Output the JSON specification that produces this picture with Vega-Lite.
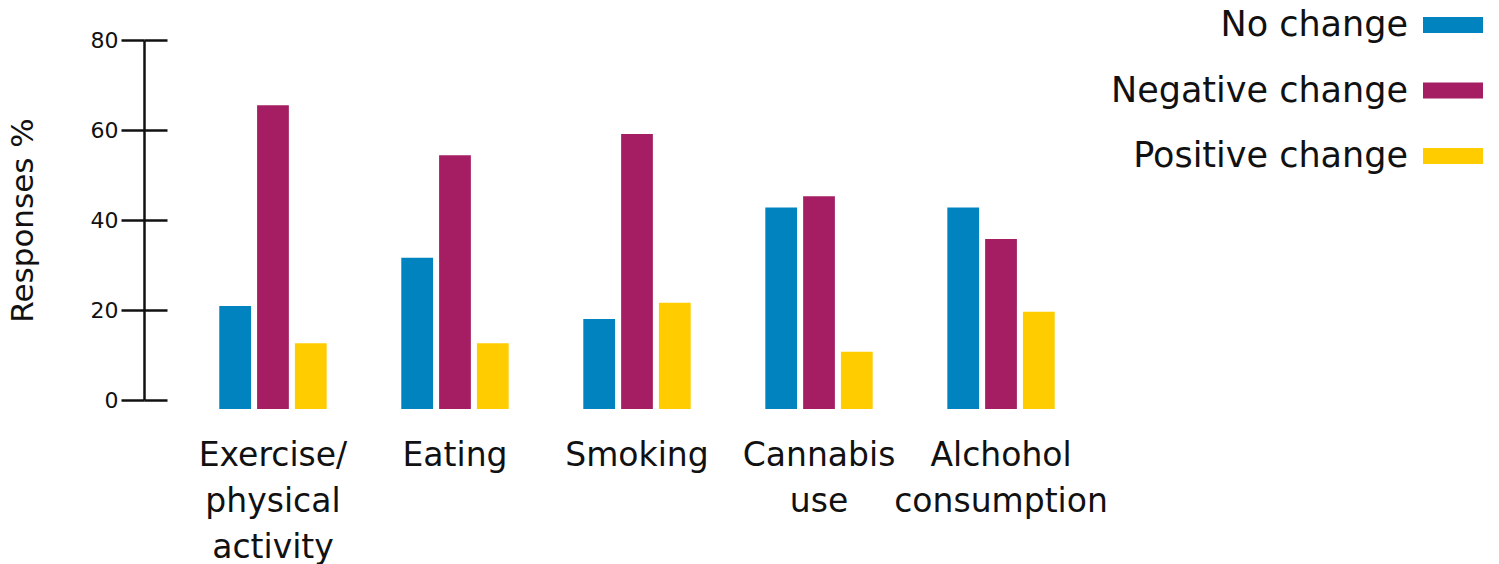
{
  "$schema": "https://vega.github.io/schema/vega-lite/v6.json",
  "width": 1032,
  "height": 360,
  "autosize": "none",
  "padding": {"left": 121, "top": 40, "right": 346, "bottom": 164},
  "background": "white",
  "config": {
    "view": {"stroke": null},
    "font": "DejaVu Sans"
  },
  "data": {
    "values": [
      {"activity": "Exercise/physical activity", "response": "No change", "pct": 20.9},
      {"activity": "Exercise/physical activity", "response": "Negative change", "pct": 65.5},
      {"activity": "Exercise/physical activity", "response": "Positive change", "pct": 12.6},
      {"activity": "Eating", "response": "No change", "pct": 31.6},
      {"activity": "Eating", "response": "Negative change", "pct": 54.4},
      {"activity": "Eating", "response": "Positive change", "pct": 12.6},
      {"activity": "Smoking", "response": "No change", "pct": 18.0},
      {"activity": "Smoking", "response": "Negative change", "pct": 59.1},
      {"activity": "Smoking", "response": "Positive change", "pct": 21.6},
      {"activity": "Cannabis use", "response": "No change", "pct": 42.8},
      {"activity": "Cannabis use", "response": "Negative change", "pct": 45.3},
      {"activity": "Cannabis use", "response": "Positive change", "pct": 10.7},
      {"activity": "Alchohol consumption", "response": "No change", "pct": 42.8},
      {"activity": "Alchohol consumption", "response": "Negative change", "pct": 35.8},
      {"activity": "Alchohol consumption", "response": "Positive change", "pct": 19.6}
    ]
  },
  "resolve": {"axis": {"y": "independent"}},
  "layer": [
    {
      "mark": {"type": "bar"},
      "encoding": {
        "x": {
          "field": "activity",
          "type": "nominal",
          "sort": ["Exercise/physical activity", "Eating", "Smoking", "Cannabis use", "Alchohol consumption"],
          "scale": {"paddingInner": 0.41, "paddingOuter": 0.54},
          "axis": {
            "title": null,
            "domain": false,
            "ticks": false,
            "labelAngle": 0,
            "labelFontSize": 33,
            "labelColor": "#111111",
            "labelPadding": 39,
            "labelLineHeight": 46,
            "labelLimit": 400,
            "labelExpr": "datum.value == 'Exercise/physical activity' ? ['Exercise/', 'physical', 'activity'] : datum.value == 'Cannabis use' ? ['Cannabis', 'use'] : datum.value == 'Alchohol consumption' ? ['Alchohol', 'consumption'] : datum.value"
          }
        },
        "xOffset": {
          "field": "response",
          "type": "nominal",
          "sort": ["No change", "Negative change", "Positive change"],
          "scale": {"paddingInner": 0.16, "paddingOuter": 0}
        },
        "y": {
          "field": "pct",
          "type": "quantitative",
          "scale": {"domain": [0, 80], "nice": false},
          "axis": {
            "orient": "left",
            "title": "Responses %",
            "titleFontSize": 31,
            "titleFontWeight": "normal",
            "titleColor": "#111111",
            "titlePadding": 51,
            "values": [0, 20, 40, 60, 80],
            "grid": false,
            "offset": -23,
            "tickSize": 23,
            "tickWidth": 2.5,
            "tickColor": "#111111",
            "domainColor": "#111111",
            "domainWidth": 2.5,
            "labelFontSize": 22,
            "labelColor": "#111111",
            "labelPadding": 3
          }
        },
        "y2": {"datum": -2},
        "color": {
          "field": "response",
          "type": "nominal",
          "sort": ["No change", "Negative change", "Positive change"],
          "scale": {
            "domain": ["No change", "Negative change", "Positive change"],
            "range": ["#0083BF", "#A51E63", "#FFCC00"]
          },
          "legend": {
            "title": null,
            "orient": "none",
            "legendX": 1302,
            "legendY": -45,
            "direction": "vertical",
            "symbolType": "M-1,-0.27H1V0.27H-1Z",
            "symbolSize": 3600,
            "symbolStrokeWidth": 0,
            "symbolOpacity": 1,
            "labelFontSize": 35,
            "labelColor": "#111111",
            "labelAlign": "right",
            "labelOffset": -75,
            "labelLimit": 400,
            "rowPadding": 17.5
          }
        }
      }
    },
    {
      "mark": {"type": "rule", "opacity": 0},
      "encoding": {
        "y": {
          "field": "pct",
          "type": "quantitative",
          "axis": {
            "orient": "left",
            "title": null,
            "values": [0, 20, 40, 60, 80],
            "grid": false,
            "offset": -23,
            "tickSize": -23,
            "tickWidth": 2.5,
            "tickColor": "#111111",
            "domain": false,
            "labels": false
          }
        }
      }
    }
  ]
}
